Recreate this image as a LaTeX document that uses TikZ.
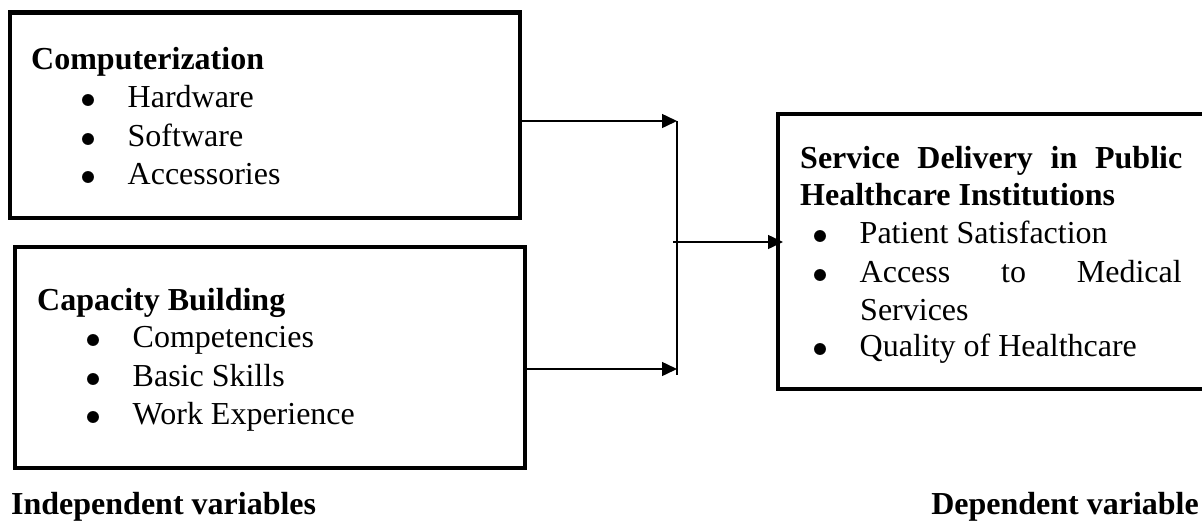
\documentclass[tikz,border=0pt]{standalone}
\usepackage{fontspec}
\setmainfont{Liberation Serif}
\usetikzlibrary{arrows.meta}
\setlength{\unitlength}{1pt}
\newcommand{\bul}{\begin{picture}(46,0)\put(6.5,7){\circle*{12}}\end{picture}}
\tikzset{
	box/.style={draw, line width=4.5pt, inner sep=0pt, outer sep=0pt, anchor=north west},
	txt/.style={inner sep=0pt, anchor=base west, font=\fontsize{32}{38}\selectfont},
	hd/.style={txt, font=\fontsize{32}{38}\selectfont\bfseries},
	link/.style={line width=1.5pt, -{Triangle[length=15pt, width=14pt]}}
}
\begin{document}
\begin{tikzpicture}[x=1pt, y=-1pt]
	\useasboundingbox (0,0) rectangle (1202,522);
	% boxes
	\node[box, minimum width=510pt, minimum height=205.5pt] (comp) at (10,12.5) {};
	\node[box, minimum width=510pt, minimum height=221pt] (cap) at (15,247) {};
	\node[box, minimum width=432pt, minimum height=275pt] (serv) at (778,114) {};
	% computerization
	\node[hd] (comph) at (31,69) {Computerization};
	\node[txt] (hw) at (81.5,107) {\bul Hardware};
	\node[txt] (sw) at (81.5,146) {\bul Software};
	\node[txt] (acc) at (81.5,184) {\bul Accessories};
	% capacity building
	\node[hd] (caph) at (37,310) {Capacity Building};
	\node[txt] (comps) at (86.5,347) {\bul Competencies};
	\node[txt] (skills) at (86.5,386) {\bul Basic Skills};
	\node[txt] (exp) at (86.5,424) {\bul Work Experience};
	% service delivery
	\node[hd] (servh) at (800,168) {\makebox[382pt][s]{Service Delivery in Public}};
	\node[hd] (servh2) at (800,205) {Healthcare Institutions};
	\node[txt] (pat) at (813.5,243) {\bul Patient Satisfaction};
	\node[txt] (acs) at (813.5,282) {\bul\makebox[322pt][s]{Access to Medical}};
	\node[txt] (svc) at (860,320) {Services};
	\node[txt] (qual) at (813.5,356) {\bul Quality of Healthcare};
	% labels
	\node[hd] (indep) at (11,514) {Independent variables};
	\node[hd, anchor=base east] (dep) at (1199,514) {Dependent variable};
	% connectors
	\coordinate (jtop) at (677,121);
	\coordinate (jlow) at (677,369);
	\coordinate (jend) at (677,375);
	\coordinate (jmid) at (673,242);
	\draw[link] (comp.east |- jtop) -- (jtop);
	\draw[link] (cap.east |- jlow) -- (jlow);
	\draw[line width=1.5pt] (jtop) -- (jend);
	\draw[link, shorten >=-5pt] (jmid) -- (jmid -| serv.west);
\end{tikzpicture}
\end{document}
